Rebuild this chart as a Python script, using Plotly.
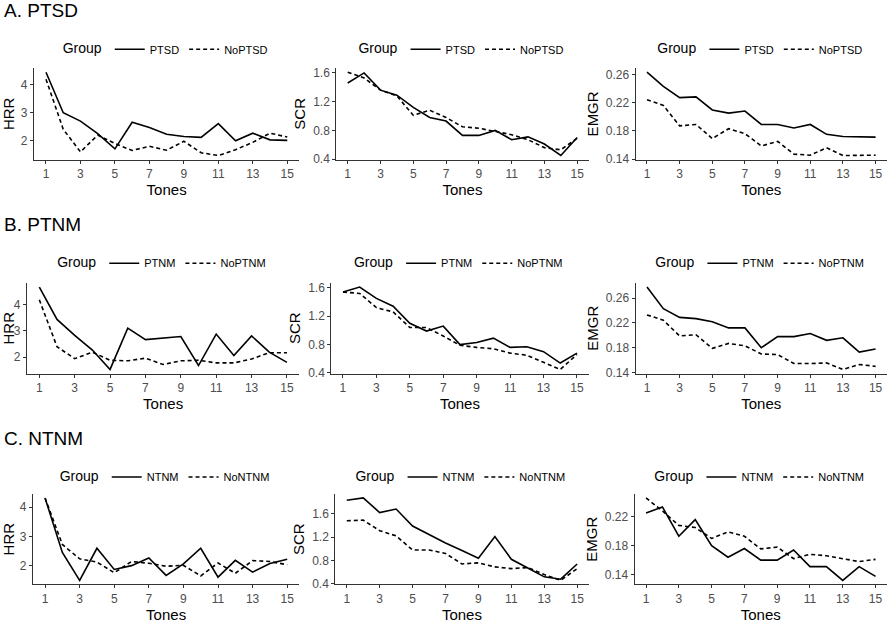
import plotly.graph_objects as go
from plotly.subplots import make_subplots

tones = list(range(1, 16))
tick_tones = [1, 3, 5, 7, 9, 11, 13, 15]

row_titles = ["A. PTSD", "B. PTNM", "C. NTNM"]
group_names = [["PTSD", "NoPTSD"], ["PTNM", "NoPTNM"], ["NTNM", "NoNTNM"]]
measures = ["HRR", "SCR", "EMGR"]

# Row A: PTSD
hrr_ptsd = [4.45, 3.0, 2.7, 2.25, 1.71, 2.66, 2.47, 2.23, 2.15, 2.12, 2.61, 2.0, 2.27, 2.03, 2.01]
hrr_noptsd = [4.2, 2.41, 1.6, 2.2, 1.9, 1.65, 1.8, 1.66, 1.98, 1.57, 1.47, 1.68, 1.94, 2.27, 2.13]
scr_ptsd = [1.46, 1.6, 1.36, 1.29, 1.12, 0.98, 0.93, 0.73, 0.73, 0.80, 0.67, 0.71, 0.61, 0.45, 0.70]
scr_noptsd = [1.61, 1.53, 1.36, 1.28, 1.01, 1.08, 0.98, 0.85, 0.83, 0.78, 0.74, 0.67, 0.56, 0.53, 0.69]
emgr_ptsd = [0.263, 0.243, 0.227, 0.228, 0.2095, 0.205, 0.208, 0.189, 0.189, 0.184, 0.189, 0.175, 0.172, 0.171, 0.171]
emgr_noptsd = [0.224, 0.216, 0.187, 0.189, 0.169, 0.183, 0.176, 0.1585, 0.165, 0.147, 0.1455, 0.156, 0.145, 0.145, 0.1455]

# Row B: PTNM
hrr_ptnm = [4.68, 3.44, 2.83, 2.27, 1.53, 3.11, 2.67, 2.74, 2.79, 1.68, 2.88, 2.06, 2.81, 2.19, 1.8]
hrr_noptnm = [4.19, 2.4, 1.94, 2.19, 1.88, 1.86, 1.96, 1.72, 1.86, 1.88, 1.78, 1.78, 1.93, 2.17, 2.17]
scr_ptnm = [1.54, 1.61, 1.45, 1.34, 1.10, 0.99, 1.06, 0.80, 0.83, 0.89, 0.76, 0.77, 0.70, 0.54, 0.68]
scr_noptnm = [1.54, 1.52, 1.32, 1.26, 1.04, 1.04, 0.92, 0.79, 0.76, 0.74, 0.68, 0.65, 0.55, 0.45, 0.66]
emgr_ptnm = [0.278, 0.243, 0.229, 0.227, 0.222, 0.212, 0.212, 0.18, 0.198, 0.198, 0.203, 0.192, 0.196, 0.173, 0.178]
emgr_noptnm = [0.233, 0.2245, 0.199, 0.201, 0.179, 0.187, 0.183, 0.170, 0.169, 0.1545, 0.1545, 0.1555, 0.145, 0.153, 0.150]

# Row C: NTNM
hrr_ntnm = [4.31, 2.46, 1.51, 2.6, 1.88, 2.01, 2.27, 1.68, 2.07, 2.6, 1.62, 2.19, 1.79, 2.08, 2.23]
hrr_nontnm = [4.31, 2.73, 2.24, 2.13, 1.77, 2.15, 2.09, 1.99, 2.02, 1.66, 2.1, 1.75, 2.18, 2.15, 2.04]
scr_ntnm = [1.83, 1.87, 1.62, 1.68, 1.39, 1.24, 1.10, 0.97, 0.84, 1.21, 0.82, 0.67, 0.52, 0.48, 0.74]
scr_nontnm = [1.48, 1.49, 1.31, 1.22, 0.98, 0.98, 0.92, 0.74, 0.76, 0.69, 0.66, 0.68, 0.56, 0.46, 0.66]
emgr_ntnm = [0.225, 0.2335, 0.193, 0.216, 0.18, 0.164, 0.176, 0.16, 0.16, 0.174, 0.151, 0.151, 0.132, 0.151, 0.1375]
emgr_nontnm = [0.246, 0.228, 0.208, 0.205, 0.19, 0.199, 0.193, 0.1755, 0.178, 0.162, 0.168, 0.166, 0.162, 0.158, 0.161]

data = [
    [(hrr_ptsd, hrr_noptsd), (scr_ptsd, scr_noptsd), (emgr_ptsd, emgr_noptsd)],
    [(hrr_ptnm, hrr_noptnm), (scr_ptnm, scr_noptnm), (emgr_ptnm, emgr_noptnm)],
    [(hrr_ntnm, hrr_nontnm), (scr_ntnm, scr_nontnm), (emgr_ntnm, emgr_nontnm)],
]

y_ticks = {
    "HRR": ([2, 3, 4], ["2", "3", "4"]),
    "SCR": ([0.4, 0.8, 1.2, 1.6], ["0.4", "0.8", "1.2", "1.6"]),
    "EMGR": ([0.14, 0.18, 0.22, 0.26], ["0.14", "0.18", "0.22", "0.26"]),
}

W, H = 888, 624
# pixel layout of panels
col_px = [[(32, 298), (335, 588), (635, 887)],
          [(25, 298), (330, 588), (635, 887)],
          [(31, 298), (334, 588), (634, 887)]]
row_px = [(67, 160), (285, 377), (499, 591)]
legend_px = [48, 265, 482]
title_px = [9, 226, 443]

FONT = "Liberation Sans, Arial, sans-serif"
fig = make_subplots(rows=3, cols=3)

legend_idx = 0
for r in range(3):
    for c in range(3):
        legend_idx += 1
        lname = "legend" if legend_idx == 1 else f"legend{legend_idx}"
        sol, das = data[r][c]
        fig.add_trace(go.Scatter(x=tones, y=sol, mode="lines", name=group_names[r][0],
                                 line=dict(color="black", width=1.6), legend=lname),
                      row=r + 1, col=c + 1)
        fig.add_trace(go.Scatter(x=tones, y=das, mode="lines", name=group_names[r][1],
                                 line=dict(color="black", width=1.6, dash="4px,3px"), legend=lname),
                      row=r + 1, col=c + 1)
        allv = sol + das
        lo, hi = min(allv), max(allv)
        pad = (hi - lo) * 0.05
        x0, x1 = col_px[r][c]
        y0, y1 = row_px[r]
        xd = [x0 / W, x1 / W]
        yd = [1 - y1 / H, 1 - y0 / H]
        m = measures[c]
        fig.update_xaxes(domain=xd, range=[0.3, 15.7], tickvals=tick_tones,
                         ticks="outside", ticklen=3, tickcolor="#333333",
                         showline=True, linecolor="#333333", linewidth=1,
                         showgrid=False, zeroline=False,
                         tickfont=dict(size=12, color="#4d4d4d", family=FONT),
                         title=dict(text="Tones", font=dict(size=15, color="black", family=FONT), standoff=1),
                         row=r + 1, col=c + 1)
        fig.update_yaxes(domain=yd, range=[lo - pad, hi + pad],
                         tickvals=y_ticks[m][0], ticktext=y_ticks[m][1],
                         ticks="outside", ticklen=3, tickcolor="#333333",
                         showline=True, linecolor="#333333", linewidth=1,
                         showgrid=False, zeroline=False,
                         tickfont=dict(size=12, color="#4d4d4d", family=FONT),
                         title=dict(text=m, font=dict(size=15, color="black", family=FONT), standoff=3),
                         row=r + 1, col=c + 1)
        fig.update_layout({lname: dict(
            orientation="h", x=(x0 + x1) / 2 / W, xanchor="center",
            y=1 - legend_px[r] / H, yanchor="middle",
            title=dict(text="Group", side="left", font=dict(size=14, color="black", family=FONT)),
            font=dict(size=11, color="black", family=FONT),
            itemwidth=30, tracegroupgap=0, bgcolor="rgba(0,0,0,0)",
        )})

for r in range(3):
    fig.add_annotation(text=row_titles[r], x=0, xref="paper", xanchor="left",
                       y=1 - title_px[r] / H, yref="paper", yanchor="middle",
                       showarrow=False, font=dict(size=19, color="black", family=FONT))

fig.update_layout(width=W, height=H, margin=dict(l=0, r=0, t=0, b=0),
                  paper_bgcolor="white", plot_bgcolor="white", showlegend=True,
                  font=dict(family=FONT))

fig.write_html("out.html", config={"displayModeBar": False},
               post_script="document.body.style.margin='0';document.body.style.overflow='hidden';")
